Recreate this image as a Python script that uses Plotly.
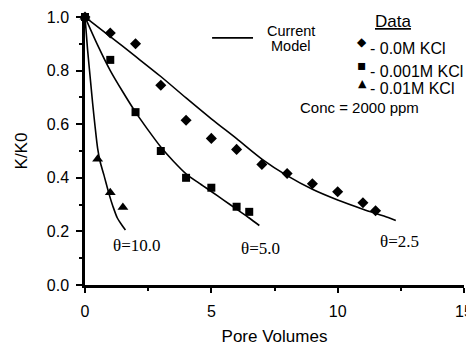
import plotly.graph_objects as go

pv_00 = [0, 1, 2, 3, 4, 5, 6, 7, 8, 9, 10, 11, 11.5]
kk_00 = [1.0, 0.94, 0.90, 0.745, 0.615, 0.547, 0.506, 0.45, 0.416, 0.378, 0.348, 0.307, 0.277]

pv_0001 = [0, 1, 2, 3, 4, 5, 6, 6.5]
kk_0001 = [1.0, 0.84, 0.645, 0.50, 0.40, 0.363, 0.292, 0.273]

pv_001 = [0, 0.5, 1.0, 1.5]
kk_001 = [1.0, 0.47, 0.345, 0.29]

# ---- model curves ----
m25_x = [0, 1, 2, 3, 4, 5, 6, 7, 8, 9, 10, 11, 12, 12.3]
m25_y = [1.0, 0.927, 0.853, 0.778, 0.698, 0.620, 0.546, 0.470, 0.408, 0.357, 0.317, 0.283, 0.252, 0.241]

m50_x = [0, 0.5, 1, 1.5, 2, 2.5, 3, 3.5, 4, 4.5, 5, 5.5, 6, 6.5, 6.9]
m50_y = [1.0, 0.895, 0.800, 0.720, 0.645, 0.578, 0.515, 0.462, 0.415, 0.381, 0.349, 0.316, 0.283, 0.250, 0.222]

m10_x = [0, 0.1, 0.2, 0.3, 0.4, 0.5, 0.6, 0.75, 0.95, 1.1, 1.28, 1.45, 1.6]
m10_y = [1.0, 0.88, 0.78, 0.68, 0.59, 0.51, 0.46, 0.41, 0.34, 0.295, 0.25, 0.225, 0.205]

x_ticks = [0, 5, 10, 15]
y_ticks = [0.0, 0.2, 0.4, 0.6, 0.8, 1.0]

SANS = "Liberation Sans, Arial, sans-serif"
SERIF = "Liberation Serif, Times New Roman, serif"

fig = go.Figure()

for mx, my in [(m25_x, m25_y), (m50_x, m50_y), (m10_x, m10_y)]:
    fig.add_trace(go.Scatter(x=mx, y=my, mode="lines", cliponaxis=False,
                             line=dict(color="black", width=1.6, shape="spline", smoothing=0.8),
                             showlegend=False, hoverinfo="skip"))

fig.add_trace(go.Scatter(x=pv_00, y=kk_00, mode="markers", cliponaxis=False, name="0.0M KCl",
                         marker=dict(symbol="diamond", size=8.5, color="black"), showlegend=False))
fig.add_trace(go.Scatter(x=pv_0001, y=kk_0001, mode="markers", cliponaxis=False, name="0.001M KCl",
                         marker=dict(symbol="square", size=8, color="black"), showlegend=False))
fig.add_trace(go.Scatter(x=pv_001, y=kk_001, mode="markers", cliponaxis=False, name="0.01M KCl",
                         marker=dict(symbol="triangle-up", size=9.5, color="black"), showlegend=False))

ann = []
def A(text, x, y, size, family=SANS, xanchor="center"):
    ann.append(dict(text=text, x=x, y=y, xref="x", yref="y", showarrow=False,
                    xanchor=xanchor, yanchor="middle",
                    font=dict(family=family, size=size, color="black")))

A("\u03b8=10.0", 2.02, 0.146, 17, SERIF)
A("\u03b8=5.0", 6.96, 0.138, 17, SERIF)
A("\u03b8=2.5", 12.43, 0.164, 17, SERIF)
A("Conc = 2000 ppm", 10.88, 0.662, 15)
A("Current", 8.15, 0.948, 14.5)
A("Model", 8.15, 0.890, 14.5)
A("<u>Data</u>", 12.19, 0.985, 17)
A("- 0.0M KCl", 11.2, 0.883, 16, xanchor="left")
A("- 0.001M KCl", 11.2, 0.795, 16, xanchor="left")
A("- 0.01M KCl", 11.2, 0.733, 16, xanchor="left")
# legend glyphs
A("\u25c6", 10.97, 0.905, 12, "DejaVu Sans")
A("\u25aa", 10.97, 0.822, 14, "DejaVu Sans")
A("\u25b2", 10.97, 0.752, 11, "DejaVu Sans")

# the page body has an 8px default margin, so the figure is sized to fit inside the window
fig.update_layout(
    width=466, height=338,
    margin=dict(l=77, r=10, t=9, b=61),
    paper_bgcolor="white", plot_bgcolor="white",
    annotations=ann,
    shapes=[dict(type="line", xref="x", yref="y", x0=5.03, x1=6.65, y0=0.922, y1=0.922,
                 line=dict(color="black", width=1.6))],
    showlegend=False,
)

fig.update_xaxes(range=[0, 15], tickvals=x_ticks, ticktext=[str(v) for v in x_ticks],
                 showline=True, linecolor="black", linewidth=2.5, mirror=False,
                 ticks="outside", ticklen=5, tickwidth=1.5, tickcolor="black",
                 minor=dict(dtick=2.5, tick0=0, ticks="outside", ticklen=3, tickwidth=1.5, tickcolor="black", showgrid=False),
                 showgrid=False, zeroline=False, automargin=False, ticklabeloverflow="allow",
                 tickfont=dict(family=SANS, size=16, color="black"), ticklabelstandoff=5,
                 title=dict(text="Pore Volumes", font=dict(family=SANS, size=17, color="black"), standoff=28))
fig.update_yaxes(range=[0, 1.0], tickvals=y_ticks, ticktext=["%.1f" % v for v in y_ticks],
                 showline=True, linecolor="black", linewidth=2.5, mirror=False,
                 ticks="outside", ticklen=6, tickwidth=1.5, tickcolor="black",
                 minor=dict(dtick=0.1, tick0=0, ticks="outside", ticklen=3, tickwidth=1.5, tickcolor="black", showgrid=False),
                 showgrid=False, zeroline=False, automargin=False,
                 tickfont=dict(family=SANS, size=16, color="black"), ticklabelstandoff=4,
                 title=dict(text="K/K0", font=dict(family=SANS, size=17, color="black"), standoff=15))

fig.write_html("out.html")
